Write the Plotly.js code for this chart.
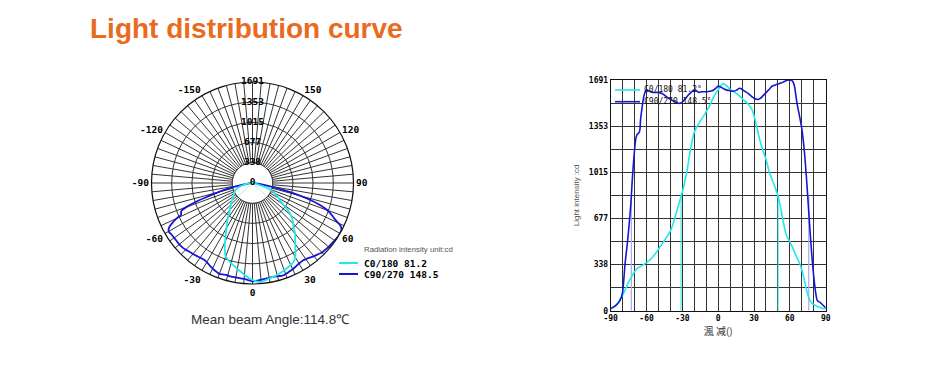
<!DOCTYPE html>
<html><head><meta charset="utf-8">
<script src="https://cdn.plot.ly/plotly-3.0.1.min.js"></script>
<style>html,body{margin:0;padding:0;background:#fff;}#chart{width:950px;height:385px;}</style>
</head><body><div id="chart"></div>
<script>
// ---- data ----
const c0Angles = [-90,-85,-80,-77,-75,-72,-70,-67,-65,-60,-55,-50,-45,-40,-37,-35,-32,-30,-28,-26,-24,-22,-20,-17,-15,-12,-10,-7,-5,-3,0,2,4,6,8,10,15,20,25,28,30,32,35,38,40,43,45,48,50,53,55,57,60,63,65,68,70,72,74,76,78,80,85,90];
const c0Values = [12,45,115,170,210,255,285,315,325,352,392,450,515,585,660,720,810,870,945,1030,1140,1235,1310,1360,1390,1430,1460,1505,1545,1580,1620,1647,1665,1655,1640,1623,1595,1555,1515,1480,1430,1360,1245,1160,1110,1010,965,895,845,720,630,555,505,450,405,350,300,230,150,90,60,45,25,10];
const c90Angles = [-90,-87,-85,-83,-81,-80,-79,-78,-76,-75,-73,-72,-70,-69,-68,-66,-65,-64,-62,-60,-58,-55,-50,-47,-45,-42,-40,-37,-35,-32,-30,-27,-25,-22,-20,-18,-16,-14,-10,-5,-2,0,2,5,8,10,12,15,18,20,22,25,28,30,33,35,38,40,43,45,48,50,53,55,58,60,62,63,64,65,66,68,70,72,74,76,78,80,82,83,85,88,90];
const c90Values = [17,30,45,65,100,140,230,340,500,590,800,950,1180,1260,1290,1310,1400,1470,1580,1620,1610,1600,1600,1592,1580,1560,1550,1535,1527,1520,1530,1560,1581,1605,1620,1610,1600,1605,1605,1612,1630,1647,1640,1625,1615,1613,1608,1615,1630,1622,1610,1593,1570,1557,1548,1555,1580,1598,1625,1645,1655,1661,1670,1678,1690,1691,1685,1670,1640,1580,1520,1430,1335,1180,960,700,450,250,110,75,62,38,20];
const peakIntensity = 1691;
const intensityTicks = [0, 338.2, 676.4, 1014.6, 1352.8, 1691];
const intensityTickLabels = ['0','338','677','1015','1353','1691'];
const c0BeamEdges = [-31.1, 50.1];
const c90BeamEdges = [-72.7, 75.8];
const polarGuideAngles = [-47, 47];
const seriesNames = ['C0/180', 'C90/270'];
const beamAngles = ['81.2', '148.5'];
const titleText = 'Light distribution curve';
const meanText = 'Mean beam Angle:114.8℃';
const unitText = 'Radiation intensity unit:cd';
const yTitleText = 'Light intensity :cd';
const xTitleText = '渢 减()';

// ---- styles ----
const CYAN = '#22E8E8', BLUE = '#1616D2', GRID = '#333333';
const MONO = 'DejaVu Sans Mono, Liberation Mono, monospace';
const SANS = 'Liberation Sans, Arial, sans-serif';
const NARROW = 'Liberation Sans Narrow, Arial Narrow, Liberation Sans, Arial, sans-serif';
const W = 950, H = 385;
const px = v => v / W, py = v => 1 - v / H;

// polar angular ticks every 5 degrees, labels every 30 (180 hidden)
const spokeVals = [], spokeText = [];
for (let a = 0; a < 360; a += 5) {
  spokeVals.push(a);
  spokeText.push(a % 30 === 0 && a !== 180 ? String(a > 180 ? a - 360 : a) : '');
}
const ringTheta = spokeVals.concat([360]);
const innerR = intensityTicks[1];

// cartesian grid
const xGridVals = [], xGridText = [];
for (let a = -90; a <= 90; a += 10) { xGridVals.push(a); xGridText.push(a % 30 === 0 ? String(a) : ''); }
const yGridVals = [], yGridText = [];
for (let i = 0; i <= 10; i++) { yGridVals.push(peakIntensity * i / 10); yGridText.push(i % 2 === 0 ? intensityTickLabels[i / 2] : ''); }

const traces = [];
// inner white disc (hides spokes inside first ring)
traces.push({type:'scatterpolar', subplot:'polar', theta: ringTheta, r: ringTheta.map(() => innerR),
  mode:'lines', fill:'toself', fillcolor:'#ffffff', line:{color:GRID, width:1}, hoverinfo:'skip', showlegend:false});
// guide lines inside inner disc
polarGuideAngles.forEach(a => traces.push({type:'scatterpolar', subplot:'polar', theta:[a, a], r:[0, innerR],
  mode:'lines', line:{color:'#a8f2f2', width:1}, hoverinfo:'skip', showlegend:false}));
// polar curves
traces.push({type:'scatterpolar', subplot:'polar', theta:c90Angles, r:c90Values, mode:'lines',
  line:{color:BLUE, width:1.8, shape:'spline'}, name:seriesNames[1], showlegend:false});
traces.push({type:'scatterpolar', subplot:'polar', theta:c0Angles, r:c0Values, mode:'lines',
  line:{color:CYAN, width:1.8, shape:'spline'}, name:seriesNames[0], showlegend:false});
// radial labels
traces.push({type:'scatterpolar', subplot:'polar', theta:intensityTicks.map(() => 180), r:intensityTicks,
  mode:'text', text:intensityTickLabels, textposition:'middle center',
  textfont:{family:MONO, size:9.5, color:'#000', weight:'bold'}, hoverinfo:'skip', showlegend:false});

// cartesian beam lines
c90BeamEdges.forEach(e => traces.push({type:'scatter', xaxis:'x', yaxis:'y', x:[e, e], y:[0, peakIntensity / 2],
  mode:'lines', line:{color:'#a9a9ee', width:1.2}, hoverinfo:'skip', showlegend:false}));
c0BeamEdges.forEach(e => traces.push({type:'scatter', xaxis:'x', yaxis:'y', x:[e, e], y:[0, peakIntensity / 2],
  mode:'lines', line:{color:CYAN, width:1}, hoverinfo:'skip', showlegend:false}));
traces.push({type:'scatter', xaxis:'x', yaxis:'y', x:c0Angles, y:c0Values, mode:'lines',
  line:{color:CYAN, width:1.6, shape:'spline'}, name:seriesNames[0] + ' ' + beamAngles[0] + '°', showlegend:false});
traces.push({type:'scatter', xaxis:'x', yaxis:'y', x:c90Angles, y:c90Values, mode:'lines',
  line:{color:BLUE, width:1.6, shape:'spline'}, name:seriesNames[1] + ' ' + beamAngles[1] + '°', showlegend:false});

// legends (drawn as shapes + text)
const shapes = [
  {type:'line', xref:'paper', yref:'paper', x0:px(339), x1:px(358), y0:py(263), y1:py(263), line:{color:CYAN, width:2}},
  {type:'line', xref:'paper', yref:'paper', x0:px(339), x1:px(358), y0:py(274), y1:py(274), line:{color:BLUE, width:2}},
  {type:'line', xref:'paper', yref:'paper', x0:px(615), x1:px(640), y0:py(90), y1:py(90), line:{color:CYAN, width:1.6}},
  {type:'line', xref:'paper', yref:'paper', x0:px(615), x1:px(640), y0:py(101.7), y1:py(101.7), line:{color:BLUE, width:1.6}}
];
const ann = (text, x, y, font, extra) => Object.assign({text, x:px(x), y:py(y), xref:'paper', yref:'paper',
  showarrow:false, xanchor:'left', yanchor:'middle', font}, extra || {});
const annotations = [
  ann(titleText, 246.7, 28.5, {family:SANS, size:28, color:'#EA6A20', weight:'bold'}, {xanchor:'center'}),
  ann(meanText, 270, 319, {family:SANS, size:13.5, color:'#333'}, {xanchor:'center'}),
  ann(unitText, 362, 249, {family:NARROW, size:7.8, color:'#555'}),
  ann(seriesNames[0] + ' ' + beamAngles[0], 362, 263, {family:MONO, size:9.5, color:'#000', weight:'bold'}),
  ann(seriesNames[1] + ' ' + beamAngles[1], 362, 274, {family:MONO, size:9.5, color:'#000', weight:'bold'}),
  ann(seriesNames[0] + ' ' + beamAngles[0] + '°', 642, 90, {family:MONO, size:8, color:'#111'}),
  ann(seriesNames[1] + ' ' + beamAngles[1] + '°', 642, 101.7, {family:MONO, size:8, color:'#111'})
];

const layout = {
  width: W, height: H, margin:{l:0, r:0, t:0, b:0, pad:0},
  paper_bgcolor:'#fff', plot_bgcolor:'#fff', showlegend:false,
  polar: {
    domain:{x:[px(252.5 - 101), px(252.5 + 101)], y:[1 - (183 + 101) / H, 1 - (183 - 101) / H]},
    bgcolor:'#fff',
    radialaxis:{range:[0, peakIntensity], tickmode:'array', tickvals:intensityTicks.slice(1, 5),
      showticklabels:false, ticks:'', showline:false, showgrid:true, gridcolor:GRID, gridwidth:1, angle:90},
    angularaxis:{rotation:270, direction:'counterclockwise', tickmode:'array', tickvals:spokeVals, ticktext:spokeText,
      ticks:'', showgrid:true, gridcolor:GRID, gridwidth:1, showline:true, linecolor:'#111', linewidth:1.2,
      tickfont:{family:MONO, size:9.5, color:'#000', weight:'bold'}}
  },
  xaxis: {domain:[px(610.7), px(825.7)], range:[-90, 90], tickmode:'array', tickvals:xGridVals, ticktext:xGridText,
    showgrid:true, gridcolor:GRID, gridwidth:1, zeroline:false, showline:true, mirror:true, linecolor:'#111', linewidth:1,
    ticks:'', tickfont:{family:MONO, size:8, color:'#000', weight:'bold'},
    title:{text:xTitleText, font:{family:'Noto Sans CJK SC, sans-serif', size:10, color:'#333'}, standoff:2}},
  yaxis: {domain:[1 - 310.7 / H, 1 - 80 / H], range:[0, peakIntensity], tickmode:'array', tickvals:yGridVals, ticktext:yGridText,
    showgrid:true, gridcolor:GRID, gridwidth:1, zeroline:false, showline:true, mirror:true, linecolor:'#111', linewidth:1,
    ticks:'', tickfont:{family:MONO, size:8, color:'#000', weight:'bold'},
    title:{text:yTitleText, font:{family:NARROW, size:8, color:'#555'}, standoff:8}},
  shapes, annotations
};
Plotly.newPlot('chart', traces, layout, {displayModeBar:false, staticPlot:true});
</script></body></html>
